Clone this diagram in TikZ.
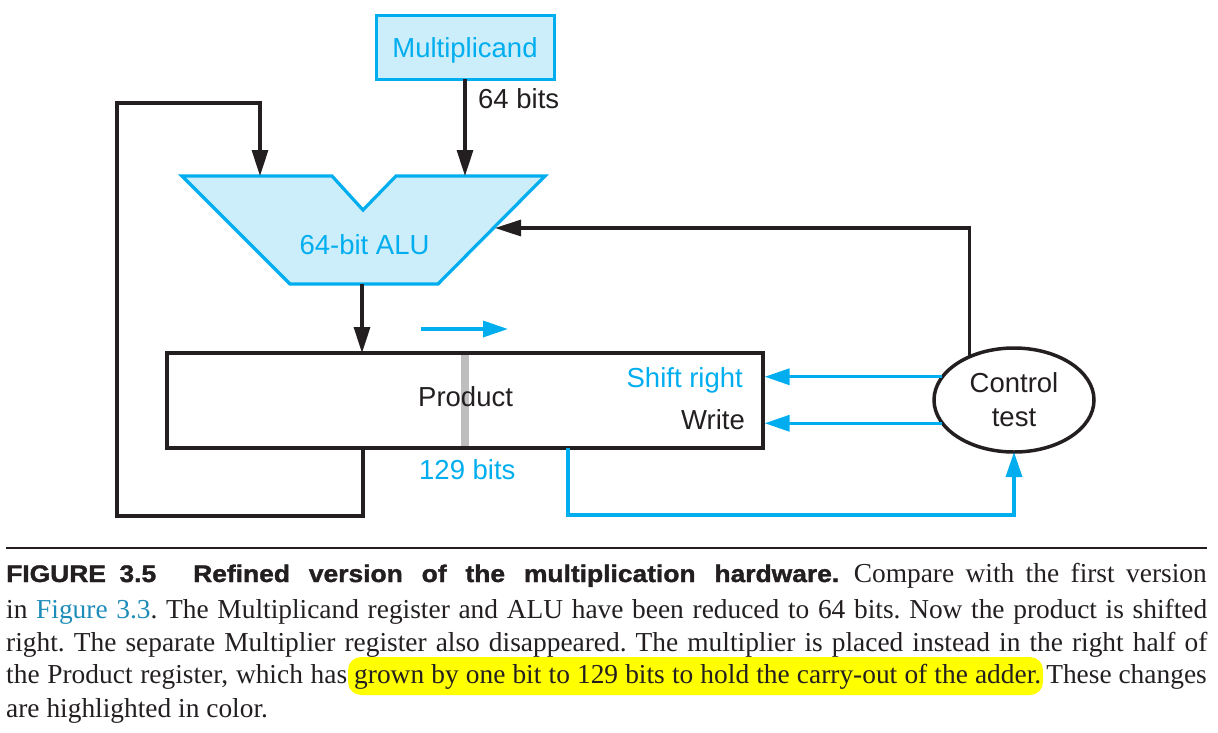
\documentclass[tikz,border=0pt]{standalone}
\usepackage{fontspec}
\setmainfont{Liberation Serif}
\newfontfamily\arial{Liberation Sans}
\newfontfamily\heavy[FakeStretch=1.1,FakeBold=1.5]{Liberation Sans Bold}
\usetikzlibrary{arrows.meta,shapes.geometric}
\definecolor{cy}{RGB}{0,174,239}
\definecolor{cyfill}{RGB}{204,238,250}
\definecolor{ink}{RGB}{35,31,32}
\definecolor{linkc}{RGB}{30,140,185}
\definecolor{hly}{RGB}{255,255,0}
\definecolor{grayb}{RGB}{190,190,190}
\frenchspacing
\begin{document}
\begin{tikzpicture}[x=1pt,y=-1pt,
  lbl/.style={font=\arial\fontsize{27.5}{34}\selectfont, inner sep=0, text=ink},
  blk/.style={draw=ink, line width=3.2pt, line join=miter, -{Triangle[length=26pt,width=16pt]}},
  blu/.style={draw=cy, line width=3.4pt, line join=miter, -{Triangle[length=25pt,width=16pt]}},
  capt/.style={font=\frenchspacing\fontsize{27.4}{33}\selectfont, inner sep=0, text=ink},
  capb/.style={font=\heavy\fontsize{24}{28}\selectfont, inner sep=0, text=ink},
]
\useasboundingbox (0,0) rectangle (1218,732);

% ---- coordinates
\coordinate (aluTL) at (182,176);
\coordinate (aluN1) at (332,176);
\coordinate (aluV)  at (363,210);
\coordinate (aluN2) at (396,176);
\coordinate (aluTR) at (545,176);
\coordinate (aluBR) at (438,284);
\coordinate (aluBL) at (290,284);
\coordinate (aluInL) at (260,176);
\coordinate (aluInR) at (465,176);
\coordinate (aluInSide) at (495,228);
\coordinate (aluOut) at (362,284);
\coordinate (prodInT) at (362,353);
\coordinate (prodOutL) at (363,448);
\coordinate (loopBR) at (363,516);
\coordinate (loopBL) at (117,516);
\coordinate (loopTL) at (117,103);
\coordinate (loopTR) at (260,103);
\coordinate (prodOutR) at (568,448);
\coordinate (blueCorner) at (568,515);
\coordinate (shA) at (421,329);
\coordinate (shB) at (508,329);

% ---- Multiplicand
\node[draw=cy, fill=cyfill, line width=3pt, minimum width=178pt, minimum height=64pt, inner sep=0, outer sep=0] (mcand) at (465,47) {};
\node[lbl, text=cy, anchor=base] (mctext) at (465,57) {Multiplicand};
\node[lbl, anchor=base west] (bits64) at (478,108) {64 bits};

% ---- ALU
\path[draw=cy, fill=cyfill, line width=3.2pt, line join=miter]
  (aluTL) -- (aluN1) -- (aluV) -- (aluN2) -- (aluTR) -- (aluBR) -- (aluBL) -- cycle;
\node[lbl, text=cy, anchor=base] (alutext) at (364.5,254) {64-bit ALU};

% ---- Product
\fill[grayb] (461,353) rectangle (469,448);
\node[draw=ink, line width=3.2pt, minimum width=596pt, minimum height=95pt, inner sep=0, outer sep=1.6pt] (prod) at (465,400.5) {};
\node[lbl, anchor=base west] (prodtext) at (418,406) {Product};
\node[lbl, text=cy, anchor=base west] (bits129) at (419,479) {129 bits};
\node[lbl, text=cy, anchor=base east] (shiftr) at (743,387) {Shift right};
\node[lbl, anchor=base east] (write) at (745,429) {Write};

% ---- Control
\node[lbl, ellipse, draw=ink, line width=3.5pt, minimum width=160pt, minimum height=104pt, inner sep=0, outer sep=0, align=center] (ctrl) at (1014,400) {Control\\test};

% ---- connectors
\draw[blk] (mcand.south) -- (aluInR);
\draw[blk] (prodOutL) -- (loopBR) -- (loopBL) -- (loopTL) -- (loopTR) -- (aluInL);
\draw[blk] (aluOut) -- (prodInT);
\draw[blk] (ctrl.136) |- (aluInSide);
\draw[blu] (ctrl.162) -- (ctrl.162 -| prod.east);
\draw[blu] (ctrl.198) -- (ctrl.198 -| prod.east);
\draw[blu] (prodOutR) -- (blueCorner) -| (ctrl.south);
\draw[blu] (shA) -- (shB);

% ---- caption
\draw[ink, line width=1.4pt] (6,548) -- (1207,548);
\node[capb, anchor=base west] (fig) at (6,582) {\makebox[150pt][s]{FIGURE 3.5}};
\node[capb, anchor=base west] (title) at (193,582) {\makebox[646pt][s]{Refined version of the multiplication hardware.}};
\node[capt, anchor=base east] (l1r) at (1207,582) {\makebox[353pt][s]{Compare with the first version}};
\node[capt, anchor=base west] (l2) at (6,618) {\makebox[1201pt][s]{in {\color{linkc}Figure 3.3}. The Multiplicand register and ALU have been reduced to 64 bits. Now the product is shifted}};
\node[capt, anchor=base west] (l3) at (6,651) {\makebox[1201pt][s]{right. The separate Multiplier register also disappeared. The multiplier is placed instead in the right half of}};
\fill[hly, rounded corners=13pt] (348,657) rectangle (1043,695);
\node[capt, anchor=base west] (l4a) at (6,683) {\makebox[341pt][s]{the Product register, which has}};
\node[capt, anchor=base west] (l4b) at (354,683) {\makebox[687pt][s]{grown by one bit to 129 bits to hold the carry-out of the adder.}};
\node[capt, anchor=base east] (l4c) at (1207,683) {These changes};
\node[capt, anchor=base west] (l5) at (6,717) {are highlighted in color.};
\end{tikzpicture}
\end{document}
